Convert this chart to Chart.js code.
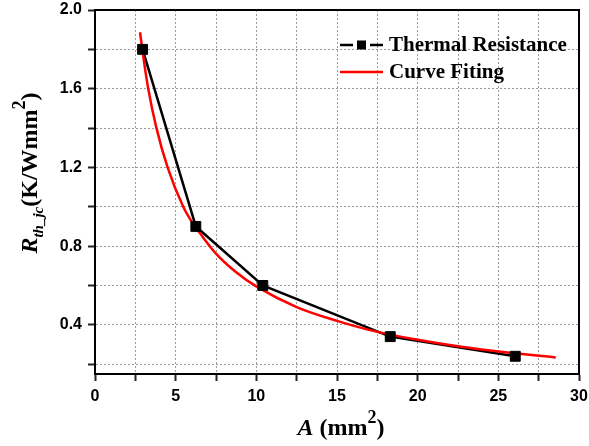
<!DOCTYPE html>
<html><head><meta charset="utf-8">
<script src="https://cdn.jsdelivr.net/npm/chart.js@4.4.0/dist/chart.umd.min.js"></script>
<style>html,body{margin:0;padding:0;background:#fff;}#wrap{width:589px;height:446px;position:relative;}</style>
</head><body><div id="wrap"><canvas id="c" width="589" height="446"></canvas></div>
<script>
// ---- data ----
const areaX = [2.95, 6.25, 10.4, 18.3, 26.05];
const resistanceY = [1.80, 0.90, 0.60, 0.34, 0.24];
const fitX = [2.79, 3.05, 3.30, 3.78, 4.50, 5.47, 6.09, 6.51, 7.5, 8.75, 10, 12.5, 15, 17.5, 20, 22.5, 25, 28.56];
const fitY = [1.887, 1.73, 1.60, 1.41, 1.20, 1.00, 0.912, 0.865, 0.762, 0.667, 0.595, 0.49, 0.42, 0.364, 0.324, 0.291, 0.264, 0.234];
const xTickValues = [0, 2.5, 5, 7.5, 10, 12.5, 15, 17.5, 20, 22.5, 25, 27.5, 30];
const xTickLabels = ['0', '', '5', '', '10', '', '15', '', '20', '', '25', '', '30'];
const yTickValues = [0.2, 0.4, 0.6, 0.8, 1.0, 1.2, 1.4, 1.6, 1.8, 2.0];
const yTickLabels = ['', '0.4', '', '0.8', '', '1.2', '', '1.6', '', '2.0'];
const seriesNames = ['Thermal Resistance', 'Curve Fiting'];

const W = 589, H = 446;
const PLOT = {left: 95, right: 579, top: 10, bottom: 374};

function drawRich(ctx, segs, x, y, rotate) {
  ctx.save();
  ctx.translate(x, y);
  if (rotate) ctx.rotate(-Math.PI / 2);
  let total = 0;
  segs.forEach(s => { ctx.font = s.font; s.w = ctx.measureText(s.t).width; total += s.w; });
  let cx = -total / 2;
  ctx.textBaseline = 'alphabetic';
  ctx.textAlign = 'left';
  ctx.fillStyle = '#000';
  segs.forEach(s => { ctx.font = s.font; ctx.fillText(s.t, cx, s.dy || 0); cx += s.w; });
  ctx.restore();
}

const SERIF = '"Liberation Serif", "Times New Roman", serif';
const decor = {
  id: 'decor',
  afterDraw(chart) {
    const ctx = chart.ctx;
    const a = chart.chartArea;
    ctx.save();
    ctx.strokeStyle = '#000';
    ctx.lineWidth = 2;
    ctx.strokeRect(a.left, a.top, a.right - a.left, a.bottom - a.top);
    ctx.restore();
    drawRich(ctx, [
      {t: 'A', font: 'italic bold 24px ' + SERIF},
      {t: ' (mm', font: 'bold 24px ' + SERIF},
      {t: '2', font: 'bold 18px ' + SERIF, dy: -12},
      {t: ')', font: 'bold 24px ' + SERIF}
    ], 341, 435, false);
    drawRich(ctx, [
      {t: 'R', font: 'italic bold 24px ' + SERIF},
      {t: 'th_jc', font: 'italic bold 15px ' + SERIF, dy: 6},
      {t: '(K/Wmm', font: 'bold 24px ' + SERIF},
      {t: '2', font: 'bold 18px ' + SERIF, dy: -12},
      {t: ')', font: 'bold 24px ' + SERIF}
    ], 37, 173, true);
    const lx = a.left + 245, ly1 = a.top + 35, ly2 = a.top + 62;
    ctx.save();
    ctx.lineWidth = 2.5;
    ctx.strokeStyle = '#000';
    ctx.beginPath();
    ctx.moveTo(lx, ly1); ctx.lineTo(lx + 13, ly1);
    ctx.moveTo(lx + 30, ly1); ctx.lineTo(lx + 43, ly1);
    ctx.stroke();
    ctx.fillStyle = '#000';
    ctx.fillRect(lx + 17, ly1 - 4.5, 9, 9);
    ctx.strokeStyle = '#ff0000';
    ctx.beginPath();
    ctx.moveTo(lx, ly2); ctx.lineTo(lx + 43, ly2);
    ctx.stroke();
    ctx.font = 'bold 21px ' + SERIF;
    ctx.textBaseline = 'middle';
    ctx.fillStyle = '#000';
    ctx.fillText(chart.data.datasets[0].label, lx + 49, ly1 + 1);
    ctx.fillText(chart.data.datasets[1].label, lx + 49, ly2 + 1);
    ctx.restore();
  }
};

new Chart(document.getElementById('c'), {
  type: 'scatter',
  data: {
    datasets: [
      {
        label: seriesNames[0],
        data: areaX.map((x, i) => ({x, y: resistanceY[i]})),
        showLine: true,
        borderColor: '#000',
        borderWidth: 2.5,
        pointRadius: 0,
        order: 2
      },
      {
        label: seriesNames[1],
        data: fitX.map((x, i) => ({x, y: fitY[i]})),
        showLine: true,
        borderColor: '#ff0000',
        borderWidth: 2.5,
        pointRadius: 0,
        cubicInterpolationMode: 'monotone',
        order: 1
      },
      {
        label: 'markers',
        data: areaX.map((x, i) => ({x, y: resistanceY[i]})),
        showLine: false,
        pointStyle: 'rect',
        pointRadius: 7,
        pointBackgroundColor: '#000',
        pointBorderColor: '#000',
        pointBorderWidth: 1,
        order: 0
      }
    ]
  },
  options: {
    responsive: false,
    animation: false,
    devicePixelRatio: 1,
    layout: {padding: {left: 0, right: W - PLOT.right, top: PLOT.top, bottom: 0}},
    plugins: {legend: {display: false}, tooltip: {enabled: false}},
    scales: {
      x: {
        type: 'linear', min: 0, max: 30,
        afterBuildTicks: ax => { ax.ticks = xTickValues.map(v => ({value: v})); },
        afterFit: ax => { ax.height = H - PLOT.bottom; ax.paddingLeft = 0; ax.paddingRight = 0; },
        ticks: {
          autoSkip: false, maxRotation: 0, padding: 6,
          color: '#000',
          font: {family: '"Liberation Sans", Arial, sans-serif', size: 16, weight: 'bold'},
          callback: (v, i) => xTickLabels[i]
        },
        grid: {
          color: ctx => (ctx.tick && (ctx.tick.value === 0 || ctx.tick.value === 30)) ? 'rgba(0,0,0,0)' : '#9a9a9a',
          lineWidth: 1,
          tickLength: 7,
          tickColor: '#222',
          tickWidth: 2
        },
        border: {display: true, color: '#000', width: 2, dash: [2, 2]}
      },
      y: {
        type: 'linear', min: 0.15, max: 2.0,
        afterBuildTicks: ax => { ax.ticks = yTickValues.map(v => ({value: v})); },
        afterFit: ax => { ax.width = PLOT.left; ax.paddingTop = 0; ax.paddingBottom = 0; },
        ticks: {
          autoSkip: false, padding: 6,
          color: '#000',
          font: {family: '"Liberation Sans", Arial, sans-serif', size: 16, weight: 'bold'},
          callback: (v, i) => yTickLabels[i]
        },
        grid: {
          color: ctx => (ctx.tick && ctx.tick.value === 2.0) ? 'rgba(0,0,0,0)' : '#9a9a9a',
          lineWidth: 1,
          tickLength: 7,
          tickColor: '#222',
          tickWidth: 2
        },
        border: {display: true, color: '#000', width: 2, dash: [2, 2]}
      }
    }
  },
  plugins: [decor]
});
</script>
</body></html>
